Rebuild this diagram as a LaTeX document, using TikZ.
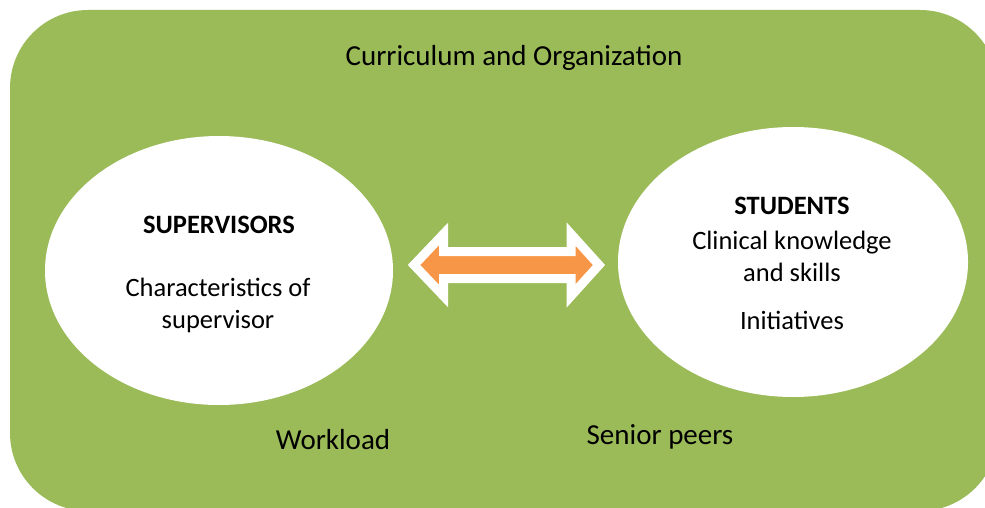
\documentclass[tikz,border=0pt]{standalone}
\usepackage{fontspec}
\setmainfont{Carlito}
\definecolor{frame}{HTML}{9BBB59}
\definecolor{arrowfill}{HTML}{F79646}
\tikzset{
  bubble/.style={ellipse, fill=white, inner sep=0pt},
  label/.style={font=\fontsize{29}{34}\selectfont, text=black, inner sep=0pt, align=center},
  bodytext/.style={font=\fontsize{26.5}{32}\selectfont, text=black, inner sep=0pt, align=center},
  headtext/.style={font=\fontsize{26.5}{30}\selectfont\bfseries, text=black, inner sep=0pt},
}
\usetikzlibrary{shapes.geometric}
\begin{document}
\begin{tikzpicture}[x=1pt,y=-1pt]
\useasboundingbox (0,0) rectangle (985,508);
\clip (0,0) rectangle (985,508);
\fill[frame, rounded corners=78pt] (10,10) rectangle (998,511);
\node[label] (curr) at (514,58) {Curriculum and Organization};
\node[bubble, minimum width=348pt, minimum height=269pt] (sup) at (219,270.5) {};
\node[bubble, minimum width=350pt, minimum height=270pt] (stu) at (793,262) {};
\node[headtext] (suph) at (219,225) {SUPERVISORS};
\node[bodytext] (supt) at (218,305) {Characteristics of\\supervisor};
\node[headtext] (stuh) at (792,206) {STUDENTS};
\node[bodytext] (stut) at (792,256) {Clinical knowledge\\and skills};
\node[bodytext] (stui) at (792,320) {Initiatives};
\node[label] (work) at (333,440) {Workload};
\node[label] (peer) at (660,437) {Senior peers};
% double block arrow between the two bubbles
\coordinate (la) at (414,265);
\coordinate (ra) at (599,265);
\fill[arrowfill, draw=white, line width=9pt, line join=miter]
  (la) -- ++(29.5,-31) -- ++(0,17.5) -- ++(127.5,0) -- ++(0,-17.5)
  -- (ra) -- ++(-28,31) -- ++(0,-17.5) -- ++(-127.5,0) -- ++(0,17.5) -- cycle;
\end{tikzpicture}
\end{document}
